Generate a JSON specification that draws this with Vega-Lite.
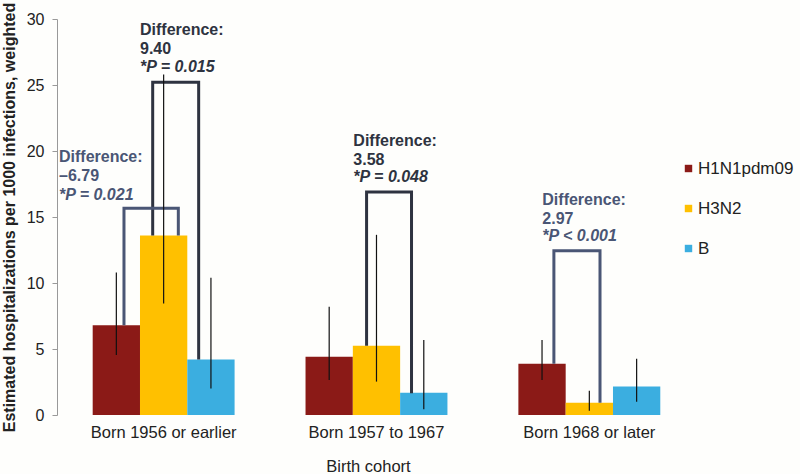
{
  "$schema": "https://vega.github.io/schema/vega-lite/v6.json",
  "autosize": {"type": "none"},
  "width": 622,
  "height": 396,
  "padding": {"left": 57, "top": 19, "right": 121, "bottom": 59},
  "background": "#fefefc",
  "datasets": {
    "bars": [
      {"cohort": "Born 1956 or earlier", "type": "H1N1pdm09", "value": 6.8, "lo": 4.55, "hi": 10.8},
      {"cohort": "Born 1956 or earlier", "type": "H3N2", "value": 13.6, "lo": 8.45, "hi": 25.8},
      {"cohort": "Born 1956 or earlier", "type": "B", "value": 4.2, "lo": 2.0, "hi": 10.4},
      {"cohort": "Born 1957 to 1967", "type": "H1N1pdm09", "value": 4.42, "lo": 2.65, "hi": 8.2},
      {"cohort": "Born 1957 to 1967", "type": "H3N2", "value": 5.25, "lo": 2.53, "hi": 13.65},
      {"cohort": "Born 1957 to 1967", "type": "B", "value": 1.68, "lo": 0.43, "hi": 5.68},
      {"cohort": "Born 1968 or later", "type": "H1N1pdm09", "value": 3.88, "lo": 2.65, "hi": 5.68},
      {"cohort": "Born 1968 or later", "type": "H3N2", "value": 0.92, "lo": 0.33, "hi": 1.84},
      {"cohort": "Born 1968 or later", "type": "B", "value": 2.15, "lo": 1.0, "hi": 4.27}
    ],
    "brackets": [
      {"id": "A", "tone": "dark", "ord": 1, "pos": 1.268, "value": 13.6},
      {"id": "A", "tone": "dark", "ord": 2, "pos": 1.268, "value": 25.2},
      {"id": "A", "tone": "dark", "ord": 3, "pos": 2.24, "value": 25.2},
      {"id": "A", "tone": "dark", "ord": 4, "pos": 2.24, "value": 4.2},
      {"id": "B", "tone": "slate", "ord": 1, "pos": 0.661, "value": 6.8},
      {"id": "B", "tone": "slate", "ord": 2, "pos": 0.661, "value": 15.66},
      {"id": "B", "tone": "slate", "ord": 3, "pos": 1.81, "value": 15.66},
      {"id": "B", "tone": "slate", "ord": 4, "pos": 1.81, "value": 13.6},
      {"id": "C", "tone": "dark", "ord": 1, "pos": 5.79, "value": 5.25},
      {"id": "C", "tone": "dark", "ord": 2, "pos": 5.79, "value": 16.9},
      {"id": "C", "tone": "dark", "ord": 3, "pos": 6.74, "value": 16.9},
      {"id": "C", "tone": "dark", "ord": 4, "pos": 6.74, "value": 1.65},
      {"id": "D", "tone": "slate", "ord": 1, "pos": 9.75, "value": 3.88},
      {"id": "D", "tone": "slate", "ord": 2, "pos": 9.75, "value": 12.45},
      {"id": "D", "tone": "slate", "ord": 3, "pos": 10.725, "value": 12.45},
      {"id": "D", "tone": "slate", "ord": 4, "pos": 10.725, "value": 0.92}
    ],
    "notes": [
      {"tone": "dark", "pos": 1.0, "yHead": 28.79, "yP": 25.95, "head": "Difference:\n9.40", "p": "*P = 0.015"},
      {"tone": "slate", "pos": -0.713, "yHead": 19.14, "yP": 16.29, "head": "Difference:\n–6.79", "p": "*P = 0.021"},
      {"tone": "dark", "pos": 5.51, "yHead": 20.38, "yP": 17.63, "head": "Difference:\n3.58", "p": "*P = 0.048"},
      {"tone": "slate", "pos": 9.505, "yHead": 15.91, "yP": 13.18, "head": "Difference:\n2.97", "p": "*P < 0.001"}
    ]
  },
  "resolve": {"scale": {"x": "independent"}},
  "layer": [
    {
      "data": {"name": "bars"},
      "encoding": {
        "x": {
          "field": "cohort", "type": "nominal", "sort": null,
          "scale": {"paddingInner": 0.3333, "paddingOuter": 0.1278, "align": 0.656},
          "axis": {"title": "Birth cohort", "labelAngle": 0}
        },
        "xOffset": {"field": "type", "type": "nominal", "sort": ["H1N1pdm09", "H3N2", "B"], "scale": {"paddingInner": 0, "paddingOuter": 0}}
      },
      "layer": [
        {
          "mark": {"type": "bar"},
          "encoding": {
            "y": {
              "field": "value", "type": "quantitative", "scale": {"domain": [0, 30], "nice": false},
              "title": "Estimated hospitalizations per 1000 infections, weighted",
              "axis": {"values": [0, 5, 10, 15, 20, 25, 30]}
            },
            "color": {
              "field": "type", "type": "nominal", "sort": ["H1N1pdm09", "H3N2", "B"],
              "scale": {"domain": ["H1N1pdm09", "H3N2", "B"], "range": ["#8b1a17", "#ffc000", "#3baee0"]},
              "legend": {"title": null, "orient": "none", "legendX": 623, "legendY": 141}
            }
          }
        }
      ]
    },
    {
      "encoding": {
        "x": {"field": "pos", "type": "quantitative", "scale": {"domain": [-0.755, 12.395], "nice": false, "zero": false}, "axis": null}
      },
      "layer": [
        {
          "data": {"name": "brackets"},
          "mark": {"type": "line", "strokeWidth": 3, "strokeJoin": "miter", "strokeCap": "butt"},
          "encoding": {
            "y": {"field": "value", "type": "quantitative", "title": "Estimated hospitalizations per 1000 infections, weighted"},
            "detail": {"field": "id"},
            "order": {"field": "ord", "type": "quantitative"},
            "color": {"condition": {"test": "datum.tone === 'dark'", "value": "#2e3340"}, "value": "#4a5675"}
          }
        },
        {
          "data": {"name": "notes"},
          "mark": {"type": "text", "align": "left", "baseline": "alphabetic", "font": "Liberation Sans", "fontWeight": "bold", "fontSize": 16, "lineBreak": "\n", "lineHeight": 19},
          "encoding": {
            "y": {"field": "yHead", "type": "quantitative", "title": "Estimated hospitalizations per 1000 infections, weighted"},
            "text": {"field": "head"},
            "color": {"condition": {"test": "datum.tone === 'dark'", "value": "#2e3340"}, "value": "#4a5675"}
          }
        },
        {
          "data": {"name": "notes"},
          "mark": {"type": "text", "align": "left", "baseline": "alphabetic", "font": "Liberation Sans", "fontWeight": "bold", "fontStyle": "italic", "fontSize": 16},
          "encoding": {
            "y": {"field": "yP", "type": "quantitative", "title": "Estimated hospitalizations per 1000 infections, weighted"},
            "text": {"field": "p"},
            "color": {"condition": {"test": "datum.tone === 'dark'", "value": "#2e3340"}, "value": "#4a5675"}
          }
        }
      ]
    },
    {
      "data": {"name": "bars"},
      "mark": {"type": "rule", "color": "#111111", "strokeWidth": 1.2},
      "encoding": {
        "x": {"field": "cohort", "type": "nominal", "sort": null, "scale": {"paddingInner": 0.3333, "paddingOuter": 0.1278, "align": 0.656}, "axis": null},
        "xOffset": {"field": "type", "type": "nominal", "sort": ["H1N1pdm09", "H3N2", "B"], "scale": {"paddingInner": 0, "paddingOuter": 0}},
        "y": {"field": "lo", "type": "quantitative", "title": "Estimated hospitalizations per 1000 infections, weighted"},
        "y2": {"field": "hi"}
      }
    }
  ],
  "config": {
    "view": {"stroke": null},
    "font": "Liberation Sans",
    "axis": {"labelFont": "Liberation Sans", "titleFont": "Liberation Sans", "labelColor": "#222222", "titleColor": "#222222", "grid": false},
    "axisX": {"domain": false, "ticks": false, "labelFontSize": 16.5, "labelPadding": 9, "titleFontSize": 16.5, "titleFontWeight": "normal", "titlePadding": 18},
    "axisY": {"domainColor": "#999999", "tickColor": "#999999", "tickSize": 5, "labelFontSize": 16, "labelPadding": 8, "titleFontSize": 16, "titleFontWeight": "bold", "titlePadding": 9},
    "legend": {"symbolType": "square", "symbolSize": 55, "symbolStrokeWidth": 0, "labelFont": "Liberation Sans", "labelFontSize": 17, "labelColor": "#222222", "rowPadding": 22, "labelOffset": 1, "padding": 0}
  }
}
